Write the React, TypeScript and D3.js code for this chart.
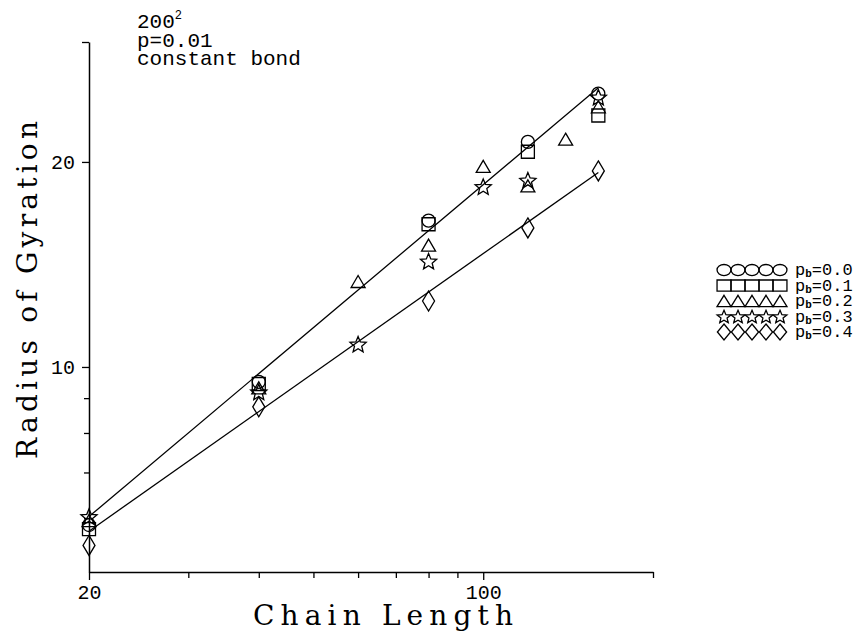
import * as d3 from 'd3';
import React, {useEffect} from 'react';

interface SeriesInterface {
  label: string,
  shape: string,
  points: Array<[number, number]>
}

// axis ticks
const xTickValues = [20, 30, 40, 50, 60, 70, 80, 90, 100, 200];
const xTickLabels = [20, 100];
const yTickValues = [6, 7, 8, 9, 10, 20, 30];
const yTickLabels = [10, 20];

// [chain length, radius of gyration]
const pb00: Array<[number, number]> = [[20, 5.86], [40, 9.51], [80, 16.4], [120, 21.4], [160, 25.2]];
const pb01: Array<[number, number]> = [[20, 5.78], [40, 9.44], [80, 16.2], [120, 20.7], [160, 23.4]];
const pb02: Array<[number, number]> = [[20, 5.95], [40, 9.32], [60, 13.35], [80, 15.1], [100, 19.7], [120, 18.45], [140, 21.6], [160, 24.1]];
const pb03: Array<[number, number]> = [[20, 6.03], [40, 9.19], [60, 10.8], [80, 14.3], [100, 18.4], [120, 18.8], [160, 24.9]];
const pb04: Array<[number, number]> = [[20, 5.47], [40, 8.74], [80, 12.5], [120, 16.0], [160, 19.4]];

// power-law fit lines
const fitUpper: Array<[number, number]> = [[20, 6.03], [160, 25.7]];
const fitLower: Array<[number, number]> = [[20, 5.74], [160, 19.3]];

const legendLabels = ['0.0', '0.1', '0.2', '0.3', '0.4'];
const shapes = ['circle', 'square', 'triangle', 'star', 'diamond'];
const seriesData = [pb00, pb01, pb02, pb03, pb04];

const infoLines = ['p=0.01', 'constant bond'];

const markerPath = (shape: string, sx: number, sy: number): string => {
  if (shape === 'circle') {
    const rx = 6.5 * sx, ry = 6.5 * sy;
    return `M${-rx},0A${rx},${ry} 0 1,0 ${rx},0A${rx},${ry} 0 1,0 ${-rx},0Z`;
  }
  if (shape === 'square') {
    const w = 6.5 * sx, h = 6.5 * sy;
    return `M${-w},${-h}H${w}V${h}H${-w}Z`;
  }
  if (shape === 'triangle') {
    const w = 7 * sx, h = 6 * sy;
    return `M0,${-h}L${w},${h}L${-w},${h}Z`;
  }
  if (shape === 'star') {
    const pts = d3.range(10).map(i => {
      const a = -Math.PI / 2 + i * Math.PI / 5;
      const r = i % 2 === 0 ? 8.5 : 3.8;
      return [Math.cos(a) * r * sx, Math.sin(a) * r * sy + 0.8 * sy];
    });
    return 'M' + pts.map(p => p.join(',')).join('L') + 'Z';
  }
  const w = 6 * sx, h = 10 * sy;
  return `M0,${-h}L${w},0L0,${h}L${-w},0Z`;
};

const legendScale: {[k: string]: [number, number]} = {
  circle: [1.07, 0.85],
  square: [1.07, 0.85],
  triangle: [1.0, 0.95],
  star: [0.85, 0.8],
  diamond: [1.1, 0.8]
};

const App: React.FC = () => {
  const chartRef: React.RefObject<HTMLDivElement> = React.createRef();

  const initChart = () => {
    const width = 868;
    const height = 635;
    const monoFont = '"Liberation Mono", "DejaVu Sans Mono", monospace';
    const serifFont = '"DejaVu Serif", "Liberation Serif", serif';
    const series: Array<SeriesInterface> = seriesData.map((points, i) => ({
      label: legendLabels[i], shape: shapes[i], points
    }));

    const container = d3.select(chartRef.current);
    container.selectAll('*').remove();

    const chart = container.append('svg')
      .attr('width', width)
      .attr('height', height)
      .style('display', 'block')
      .style('background', '#fff');

    const x = d3.scaleLog().domain([20, 200]).range([89, 653]);
    const y = d3.scaleLog().domain([5, 30]).range([572, 42]);

    // x axis
    const xAxis = chart.append('g')
      .attr('transform', 'translate(0,572)')
      .call(d3.axisBottom(x)
        .tickValues(xTickValues)
        .tickSize(8)
        .tickSizeOuter(0)
        .tickPadding(5)
        .tickFormat(d => xTickLabels.includes(+d) ? String(d) : ''));
    xAxis.selectAll('line')
      .attr('y2', (d: any) => xTickLabels.includes(+d) ? 8 : 6);

    // y axis
    const yAxis = chart.append('g')
      .attr('transform', 'translate(89,0)')
      .call(d3.axisLeft(y)
        .tickValues(yTickValues)
        .tickSize(7)
        .tickSizeOuter(0)
        .tickPadding(7)
        .tickFormat(d => yTickLabels.includes(+d) ? String(d) : ''));
    yAxis.selectAll('line')
      .attr('x2', (d: any) => (d >= 10 ? -7 : -5));

    [xAxis, yAxis].forEach(ax => {
      ax.selectAll('path.domain').attr('stroke', '#000').attr('stroke-width', 1.5);
      ax.selectAll('line').attr('stroke', '#000').attr('stroke-width', 1.3);
      ax.selectAll('text')
        .attr('fill', '#000')
        .style('font-family', monoFont)
        .style('font-size', '20px');
    });

    // axis titles
    chart.append('text')
      .attr('x', 383)
      .attr('y', 625)
      .attr('text-anchor', 'middle')
      .attr('textLength', 260)
      .attr('lengthAdjust', 'spacing')
      .style('font-family', serifFont)
      .style('font-size', '28px')
      .text('Chain Length');

    chart.append('text')
      .attr('transform', 'translate(37,290) rotate(-90)')
      .attr('text-anchor', 'middle')
      .attr('textLength', 338)
      .attr('lengthAdjust', 'spacing')
      .style('font-family', serifFont)
      .style('font-size', '28px')
      .text('Radius of Gyration');

    // info text
    const info = chart.append('g')
      .style('font-family', monoFont)
      .style('font-size', '21px');
    const first = info.append('text').attr('x', 137).attr('y', 28);
    first.append('tspan').text('200');
    first.append('tspan').attr('dy', -9).style('font-size', '12px').text('2');
    info.selectAll('text.line')
      .data(infoLines)
      .enter()
      .append('text')
      .attr('class', 'line')
      .attr('x', 137)
      .attr('y', (d, i) => 47 + i * 18)
      .text(d => d);

    // fit lines
    const line = d3.line<[number, number]>()
      .x(d => x(d[0]))
      .y(d => y(d[1]));

    chart.selectAll('path.fit')
      .data([fitUpper, fitLower])
      .enter()
      .append('path')
      .attr('class', 'fit')
      .attr('fill', 'none')
      .attr('stroke', '#000')
      .attr('stroke-width', 1.3)
      .attr('d', line);

    // markers
    series.forEach(s => {
      chart.append('g')
        .selectAll('path')
        .data(s.points)
        .enter()
        .append('path')
        .attr('transform', d => `translate(${x(d[0])},${y(d[1])})`)
        .attr('d', markerPath(s.shape, 1, 1))
        .attr('fill', 'none')
        .attr('stroke', '#000')
        .attr('stroke-width', 1.3);
    });

    // legend
    const legend = chart.append('g');
    series.forEach((s, i) => {
      const rowY = 270 + i * 15.5;
      const [sx, sy] = legendScale[s.shape];
      legend.append('g')
        .selectAll('path')
        .data(d3.range(5))
        .enter()
        .append('path')
        .attr('transform', k => `translate(${724 + k * 14},${rowY})`)
        .attr('d', markerPath(s.shape, sx, sy))
        .attr('fill', 'none')
        .attr('stroke', '#000')
        .attr('stroke-width', 1.3);
      const t = legend.append('text')
        .attr('x', 795)
        .attr('y', rowY + 5)
        .style('font-family', monoFont)
        .style('font-size', '17px');
      t.append('tspan').text('p');
      t.append('tspan').attr('dy', 2).style('font-size', '11px').style('font-weight', 'bold').text('b');
      t.append('tspan').attr('dy', -2).text('=' + s.label);
    });
  };

  useEffect(() => {
    initChart();
  }, []);

  return (
    <div className='chart' style={{position: 'absolute', left: 0, top: 0}}>
      <div className='chart-container' ref={chartRef}/>
    </div>
  );
};

export default App;
